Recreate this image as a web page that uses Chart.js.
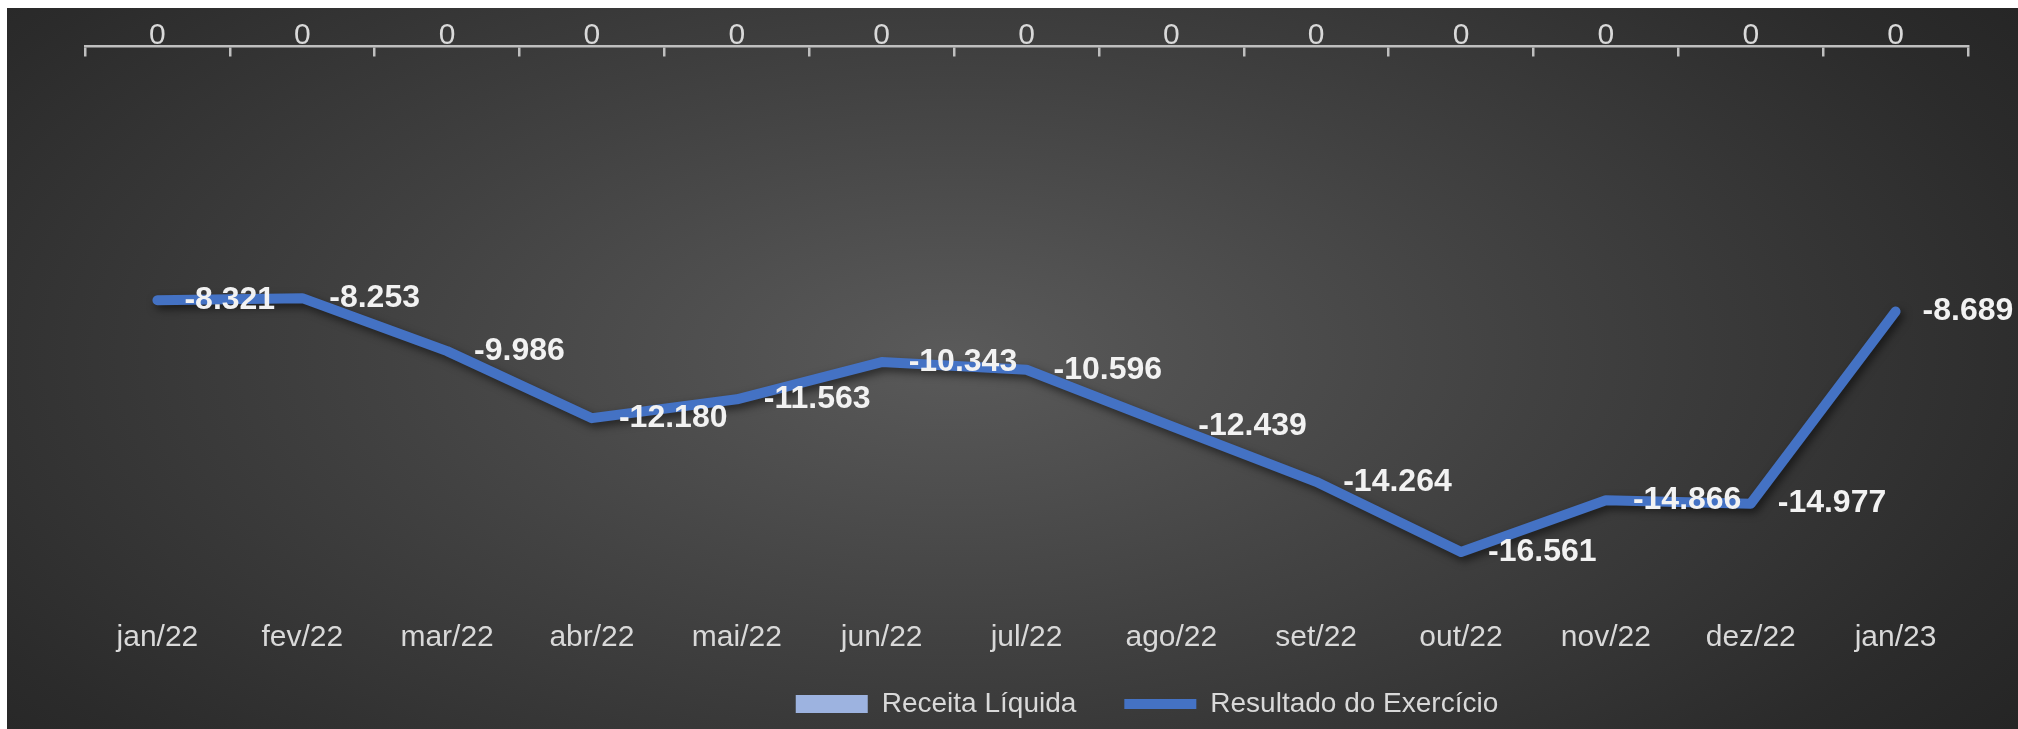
<!DOCTYPE html>
<html lang="pt-BR">
<head>
<meta charset="utf-8">
<title>Receita Líquida x Resultado do Exercício</title>
<script src="https://cdn.jsdelivr.net/npm/chart.js@4.4.1/dist/chart.umd.min.js"></script>
<style>
  html, body { margin: 0; padding: 0; background: #fff; }
  #wrap {
    position: absolute; left: 7px; top: 8px; width: 2011px; height: 721px;
    background: radial-gradient(ellipse 70% 95% at 47% 48%, #5a5a5a 0%, #424242 40%, #2b2b2b 80%, #222 100%);
  }
  canvas { display: block; }
</style>
</head>
<body>
<div id="wrap"><canvas id="chart" width="2011" height="721"></canvas></div>
<script>
const months = ['jan/22', 'fev/22', 'mar/22', 'abr/22', 'mai/22', 'jun/22', 'jul/22',
  'ago/22', 'set/22', 'out/22', 'nov/22', 'dez/22', 'jan/23'];
const receitaLiquida = [0, 0, 0, 0, 0, 0, 0, 0, 0, 0, 0, 0, 0];
const resultadoExercicio = [-8321, -8253, -9986, -12180, -11563, -10343, -10596,
  -12439, -14264, -16561, -14866, -14977, -8689];
const yMin = -18000;
const yMax = 0;

const FONT = '"Liberation Sans", Arial, sans-serif';
const LABEL_COLOR = '#d9d9d9';
const LINE_BLUE = '#4472c4';
const BAR_BLUE = '#9db3e0';
const LEGEND_CX = 1140;
const LEGEND_CY = 696;
const LEGEND_FONT = 28;
const LEGEND_PAD = 48;

// 1.234 style thousands, like the pt-BR sheet
function fmt(v) {
  const s = String(Math.abs(v)).replace(/\B(?=(\d{3})+(?!\d))/g, '.');
  return v < 0 ? '-' + s : s;
}

const lineShadow = {
  id: 'lineShadow',
  beforeDatasetDraw(chart, args) {
    if (args.meta.type !== 'line') return;
    const ctx = chart.ctx;
    ctx.save();
    ctx.shadowColor = 'rgba(0,0,0,0.55)';
    ctx.shadowBlur = 8;
    ctx.shadowOffsetX = 3;
    ctx.shadowOffsetY = 4;
  },
  afterDatasetDraw(chart, args) {
    if (args.meta.type !== 'line') return;
    chart.ctx.restore();
  },
};

const valueLabels = {
  id: 'valueLabels',
  afterDatasetsDraw(chart) {
    const ctx = chart.ctx;
    chart.data.datasets.forEach((ds, i) => {
      const meta = chart.getDatasetMeta(i);
      meta.data.forEach((el, j) => {
        const v = ds.data[j];
        ctx.save();
        if (meta.type === 'line') {
          ctx.font = 'bold 32px ' + FONT;
          ctx.fillStyle = '#f2f2f2';
          ctx.textAlign = 'left';
          ctx.textBaseline = 'middle';
          ctx.fillText(fmt(v), el.x + 27, el.y);
        } else {
          ctx.font = '30px ' + FONT;
          ctx.fillStyle = LABEL_COLOR;
          ctx.textAlign = 'center';
          ctx.textBaseline = 'middle';
          ctx.fillText(fmt(v), el.x, el.y - 10);
        }
        ctx.restore();
      });
    });
  },
};

// Excel put the legend off-centre, under the right half of the plot
const legendPlace = {
  id: 'legendPlace',
  afterLayout(chart) {
    const lg = chart.legend;
    if (!lg) return;
    const dx = LEGEND_CX - (lg.left + lg.right) / 2;
    lg.left += dx; lg.right += dx;
    lg.top = LEGEND_CY - LEGEND_PAD - LEGEND_FONT / 2;
    lg.bottom = chart.height;
  },
};

new Chart(document.getElementById('chart'), {
  type: 'bar',
  data: {
    labels: months,
    datasets: [
      {
        type: 'bar',
        label: 'Receita Líquida',
        data: receitaLiquida,
        backgroundColor: BAR_BLUE,
        borderWidth: 0,
      },
      {
        type: 'line',
        label: 'Resultado do Exercício',
        data: resultadoExercicio,
        borderColor: LINE_BLUE,
        borderWidth: 10,
        borderCapStyle: 'round',
        borderJoinStyle: 'round',
        tension: 0,
        pointRadius: 0,
        fill: false,
      },
    ],
  },
  options: {
    responsive: false,
    devicePixelRatio: 1,
    animation: false,
    layout: { padding: { left: 78, right: 50, top: 38, bottom: 0 } },
    plugins: {
      tooltip: { enabled: false },
      legend: {
        position: 'bottom',
        maxHeight: 40,
        labels: {
          color: LABEL_COLOR,
          font: { family: FONT, size: LEGEND_FONT },
          usePointStyle: true,
          pointStyleWidth: 72,
          boxHeight: 18,
          padding: LEGEND_PAD,
          generateLabels: (chart) => chart.data.datasets.map((ds, i) => ({
            text: ds.label,
            datasetIndex: i,
            hidden: false,
            fontColor: LABEL_COLOR,
            pointStyle: i === 0 ? 'rect' : 'line',
            fillStyle: i === 0 ? BAR_BLUE : LINE_BLUE,
            strokeStyle: i === 0 ? BAR_BLUE : LINE_BLUE,
            lineWidth: i === 0 ? 0 : 10,
          })),
        },
      },
    },
    scales: {
      x: {
        type: 'category',
        position: 'bottom',
        offset: true,
        grid: { display: false },
        border: { display: false },
        ticks: { color: LABEL_COLOR, font: { family: FONT, size: 30 }, padding: 16, maxRotation: 0 },
        afterFit: (scale) => { scale.height = 93; },
      },
      xTop: {
        type: 'category',
        position: { y: 0 },
        offset: true,
        grid: {
          display: true, drawOnChartArea: false, drawTicks: true, offset: true,
          tickLength: 9, color: '#bfbfbf', lineWidth: 2.5,
        },
        border: { display: true, color: '#bfbfbf', width: 2.5 },
        ticks: { display: false },
      },
      y: {
        display: false,
        min: yMin,
        max: yMax,
      },
    },
  },
  plugins: [lineShadow, valueLabels, legendPlace],
});
</script>
</body>
</html>
